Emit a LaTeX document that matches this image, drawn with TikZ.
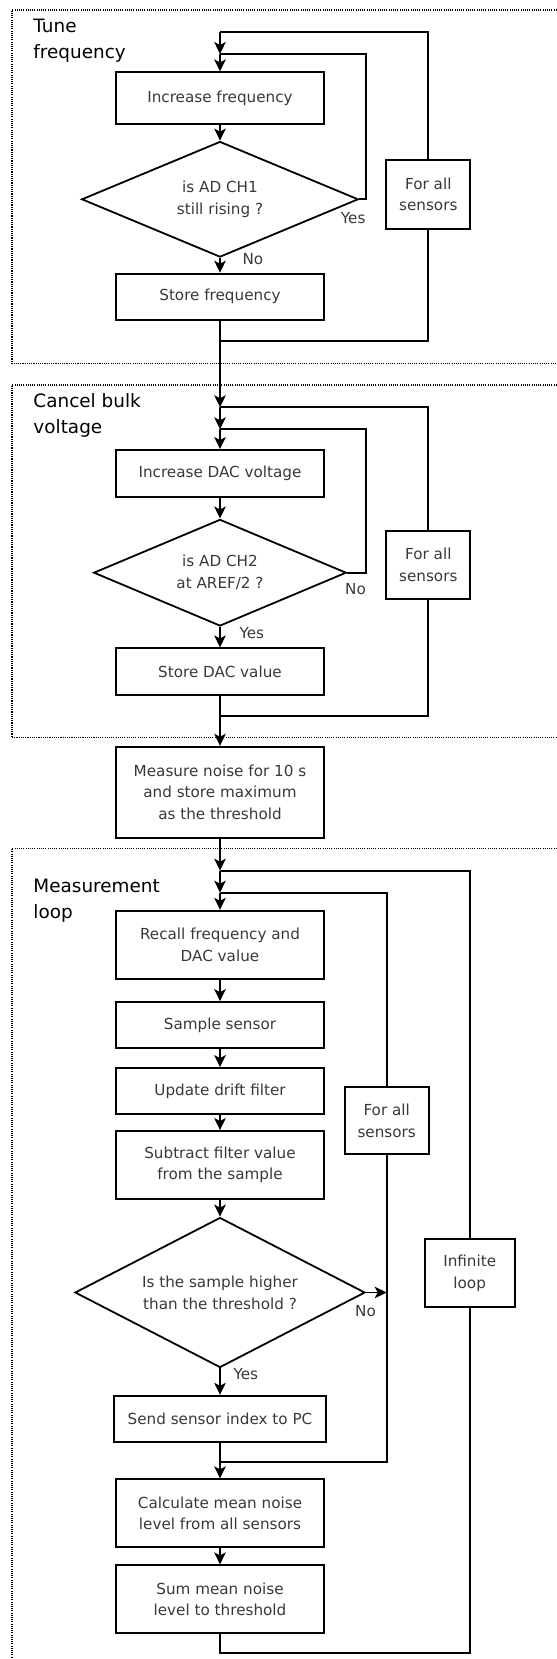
\documentclass[tikz,border=0pt]{standalone}
\usepackage{fontspec}
\setmainfont{DejaVu Sans}
\usetikzlibrary{shapes.geometric,arrows.meta}
\newcommand{\boxtxt}{\fontsize{15.2bp}{21.8bp}\selectfont}
\newcommand{\headtxt}{\fontsize{18.4bp}{26bp}\selectfont}
\begin{document}
\begin{tikzpicture}[x=1bp,y=-1bp,
  flow/.style={line width=1.8bp},
  arr/.style={flow,-{Stealth[length=12bp,width=11.5bp,inset=3bp]}},
  frame/.style={line width=1.1bp,dash pattern=on 1.1bp off 1.1bp},
  proc/.style={draw,line width=1.8bp,minimum width=208.6bp,align=center,
    inner sep=0pt,font=\boxtxt,text=black!78},
  decide/.style={draw,shape=diamond,line width=1.8bp,align=center,
    inner sep=0pt,aspect=2.4,font=\boxtxt,text=black!78},
  loopbox/.style={draw,line width=1.8bp,align=center,inner sep=0pt,
    font=\boxtxt,text=black!78},
  lbl/.style={anchor=west,inner sep=0pt,font=\boxtxt,text=black!78},
  head/.style={anchor=base west,inner sep=0pt,font=\headtxt}]
\useasboundingbox (0,0) rectangle (557,1659);

% dotted group frames
\draw[frame] (570,10) -- (12,10) -- (12,363.3) -- (570,363.3);
\draw[frame] (570,385) -- (12,385) -- (12,737.7) -- (570,737.7);
\draw[frame] (570,848.3) -- (12,848.3) -- (12,1675);

% group titles
\node[head] (h1a) at (33.3,32.3) {Tune};
\node[head] (h1b) at (33.3,58.3) {frequency};
\node[head] (h2a) at (33.3,407.3) {Cancel bulk};
\node[head] (h2b) at (33.3,433.3) {voltage};
\node[head] (h3a) at (33.3,892.3) {Measurement};
\node[head] (h3b) at (33.3,918.3) {loop};

% ---- tune frequency ----
\coordinate (t1o) at (220,32.3);
\coordinate (t1i) at (220,54);
\node[proc,minimum height=51.4bp] (b1) at (220,98) {Increase frequency};
\node[decide,minimum width=276.6bp,minimum height=115.6bp] (d1) at (220,199.3) {is AD CH1\\still rising ?};
\node[proc,minimum height=46.3bp] (s1) at (220,296.8) {Store frequency};
\node[loopbox,minimum width=84bp,minimum height=68.7bp] (f1) at (428.3,194.3) {For all\\sensors};
\coordinate (j1) at (220,340.7);
\coordinate (c1a) at (365.7,54);
\coordinate (c1b) at (428.3,340.7);
\coordinate (c1c) at (428.3,32.3);

\draw[arr] (t1o) -- (t1i);
\draw[arr] (t1i) -- (b1.north);
\draw[arr] (b1.south) -- (d1.north);
\draw[arr] (d1.south) -- (s1.north);
\draw[flow] (d1.east) -| (c1a) -- (t1i);
\draw[flow] (j1) -- (c1b) -- (f1.south);
\draw[flow] (f1.north) -- (c1c) -- (t1o);
\node[lbl] (y1) at (340.7,218) {Yes};
\node[lbl] (n1) at (242.3,259.5) {No};

% ---- cancel bulk voltage ----
\coordinate (t2o) at (220,407.3);
\coordinate (t2i) at (220,429.3);
\node[proc,minimum height=46.7bp] (b2) at (220,473.3) {Increase DAC voltage};
\node[decide,minimum width=252.6bp,minimum height=106.6bp] (d2) at (220,572.7) {is AD CH2\\at AREF/2 ?};
\node[proc,minimum height=46.7bp] (s2) at (220,671.7) {Store DAC value};
\node[loopbox,minimum width=84bp,minimum height=68.3bp] (f2) at (428.3,565.2) {For all\\sensors};
\coordinate (j2) at (220,715.7);
\coordinate (c2a) at (365.7,429.3);
\coordinate (c2b) at (428.3,715.7);
\coordinate (c2c) at (428.3,407.3);

\draw[arr] (s1.south) -- (t2o);
\draw[arr] (t2o) -- (t2i);
\draw[arr] (t2i) -- (b2.north);
\draw[arr] (b2.south) -- (d2.north);
\draw[arr] (d2.south) -- (s2.north);
\draw[flow] (d2.east) -| (c2a) -- (t2i);
\draw[flow] (j2) -- (c2b) -- (f2.south);
\draw[flow] (f2.north) -- (c2c) -- (t2o);
\node[lbl] (n2) at (345,588.8) {No};
\node[lbl] (y2) at (239.3,633.3) {Yes};

% ---- noise threshold ----
\node[proc,minimum height=91bp] (m) at (220,792.2) {Measure noise for 10 s\\and store maximum\\as the threshold};
\draw[arr] (s2.south) -- (m.north);

% ---- measurement loop ----
\coordinate (t3o) at (220,870.7);
\coordinate (t3i) at (220,892.7);
\node[proc,minimum height=68bp] (r) at (220,944.7) {Recall frequency and\\DAC value};
\node[proc,minimum height=46.3bp] (ss) at (220,1025.2) {Sample sensor};
\node[proc,minimum height=46bp] (u) at (220,1091) {Update drift filter};
\node[proc,minimum height=67.7bp] (sb) at (220,1164.8) {Subtract filter value\\from the sample};
\node[decide,minimum width=290bp,minimum height=150bp] (d3) at (220,1292.5) {Is the sample higher\\than the threshold ?};
\node[proc,minimum width=212bp,minimum height=46bp] (snd) at (220,1418.7) {Send sensor index to PC};
\node[proc,minimum height=68bp] (cm) at (220,1513.3) {Calculate mean noise\\level from all sensors};
\node[proc,minimum height=68bp] (sm) at (220,1599.3) {Sum mean noise\\level to threshold};
\node[loopbox,minimum width=84bp,minimum height=67.6bp] (f3) at (386.7,1120.5) {For all\\sensors};
\node[loopbox,minimum width=90bp,minimum height=68bp] (inf) at (469.7,1273.3) {Infinite\\loop};
\coordinate (j3) at (220,1461.7);
\coordinate (j4) at (220,1653.3);
\coordinate (c3a) at (386.7,892.7);
\coordinate (c3b) at (386.7,1461.7);
\coordinate (c3c) at (469.7,870.7);
\coordinate (c3d) at (469.7,1653.3);

\draw[arr] (m.south) -- (t3o);
\draw[arr] (t3o) -- (t3i);
\draw[arr] (t3i) -- (r.north);
\draw[arr] (r.south) -- (ss.north);
\draw[arr] (ss.south) -- (u.north);
\draw[arr] (u.south) -- (sb.north);
\draw[arr] (sb.south) -- (d3.north);
\draw[arr] (d3.south) -- (snd.north);
\draw[arr] (snd.south) -- (cm.north);
\draw[arr] (cm.south) -- (sm.north);
\draw[arr] (d3.east) -- (d3.east -| f3);
\draw[flow] (j3) -- (c3b) -- (f3.south);
\draw[flow] (f3.north) -- (c3a) -- (t3i);
\draw[flow] (sm.south) -- (j4) -- (c3d) -- (inf.south);
\draw[flow] (inf.north) -- (c3c) -- (t3o);
\node[lbl] (n3) at (355,1311) {No};
\node[lbl] (y3) at (233.3,1374) {Yes};
\end{tikzpicture}
\end{document}
